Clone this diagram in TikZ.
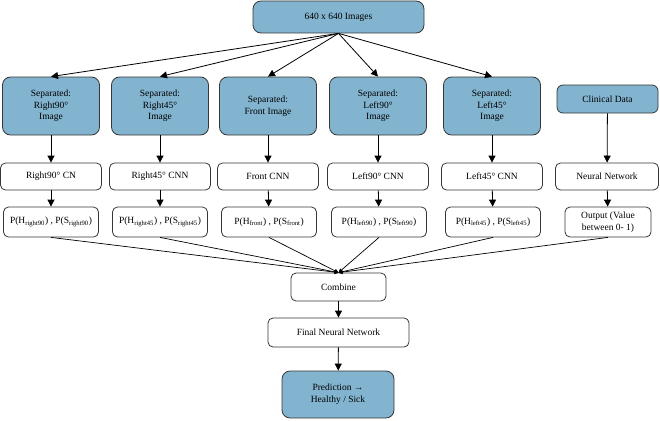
\documentclass[tikz,border=0pt]{standalone}
\usepackage{fontspec}
\setmainfont{Liberation Serif}
\usetikzlibrary{arrows.meta}
\definecolor{boxblue}{RGB}{130,179,207}
\definecolor{edge}{RGB}{55,55,55}
\tikzset{
  bluebox/.style={draw=edge, line width=0.8pt, fill=boxblue, rounded corners=8pt, align=center, inner sep=1pt, font=\fontsize{9.5}{11.7}\selectfont},
  whitebox/.style={draw=edge, line width=0.8pt, fill=white, rounded corners=5pt, align=center, inner sep=1pt, font=\fontsize{9.5}{11.7}\selectfont},
  arr/.style={draw=black, line width=0.8pt, -{Triangle[width=7pt,length=7pt]}},
  sarr/.style={draw=black, line width=0.7pt, -{Triangle[width=4pt,length=4pt]}},
}
\begin{document}
\begin{tikzpicture}[x=1pt,y=-1pt]
\useasboundingbox (0,0) rectangle (660,420);
\node[bluebox, minimum width=171pt, minimum height=32pt] (top) at (338.5,17) {640 x 640 Images};
% row 1
\node[bluebox, minimum width=97pt, minimum height=58pt] (b1) at (51,106) {Separated:\\Right90°\\Image};
\node[bluebox, minimum width=97pt, minimum height=58pt] (b2) at (160,106) {Separated:\\Right45°\\Image};
\node[bluebox, minimum width=97pt, minimum height=58pt] (b3) at (268,106) {Separated:\\Front Image};
\node[bluebox, minimum width=97pt, minimum height=58pt] (b4) at (378,106) {Separated:\\Left90°\\Image};
\node[bluebox, minimum width=97pt, minimum height=58pt] (b5) at (492,106) {Separated:\\Left45°\\Image};
\node[bluebox, minimum width=101pt, minimum height=28pt, rounded corners=6pt] (clin) at (607.5,99) {Clinical Data};
% row 2
\node[whitebox, minimum width=101pt, minimum height=27pt] (c1) at (51,176.5) {Right90° CN};
\node[whitebox, minimum width=101pt, minimum height=27pt] (c2) at (160,176.5) {Right45° CNN};
\node[whitebox, minimum width=101pt, minimum height=27pt] (c3) at (268,176.5) {Front CNN};
\node[whitebox, minimum width=101pt, minimum height=27pt] (c4) at (378,176.5) {Left90° CNN};
\node[whitebox, minimum width=101pt, minimum height=27pt] (c5) at (492,176.5) {Left45° CNN};
\node[whitebox, minimum width=103pt, minimum height=27pt] (nn) at (607,176.5) {Neural Network};
% row 3
\node[whitebox, minimum width=95pt, minimum height=30pt] (p1) at (51,222) {P(H\textsubscript{right90}) , P(S\textsubscript{right90})};
\node[whitebox, minimum width=95pt, minimum height=30pt] (p2) at (160,222) {P(H\textsubscript{right45}) , P(S\textsubscript{right45})};
\node[whitebox, minimum width=95pt, minimum height=30pt] (p3) at (269,222) {P(H\textsubscript{front}) , P(S\textsubscript{front})};
\node[whitebox, minimum width=95pt, minimum height=30pt] (p4) at (379,222) {P(H\textsubscript{left90}) , P(S\textsubscript{left90})};
\node[whitebox, minimum width=95pt, minimum height=30pt] (p5) at (493,222) {P(H\textsubscript{left45}) , P(S\textsubscript{left45})};
\node[whitebox, minimum width=86pt, minimum height=30pt] (out) at (608,222) {Output (Value\\between 0- 1)};
% bottom
\node[whitebox, minimum width=95pt, minimum height=28pt] (comb) at (338.5,287) {Combine};
\node[whitebox, minimum width=141pt, minimum height=29pt] (fnn) at (338.5,332.5) {Final Neural Network};
\node[bluebox, minimum width=112pt, minimum height=47pt] (pred) at (338,394.5) {Prediction →\\Healthy / Sick};
% connectors
\foreach \b in {b1,b2,b3,b4,b5} \draw[arr] (top.south) -- (\b.north);
\foreach \i in {1,...,5} {
  \draw[arr] (b\i) -- (c\i);
  \draw[arr] (c\i) -- (p\i);
}
\draw[arr] (clin) -- (nn);
\draw[arr] (nn) -- (out);
\foreach \p in {p1,p2,p3,p4,p5,out} \draw[sarr] (\p.south) -- (comb.north);
\draw[arr] (comb) -- (fnn);
\draw[arr] (fnn) -- (pred);
\end{tikzpicture}
\end{document}
